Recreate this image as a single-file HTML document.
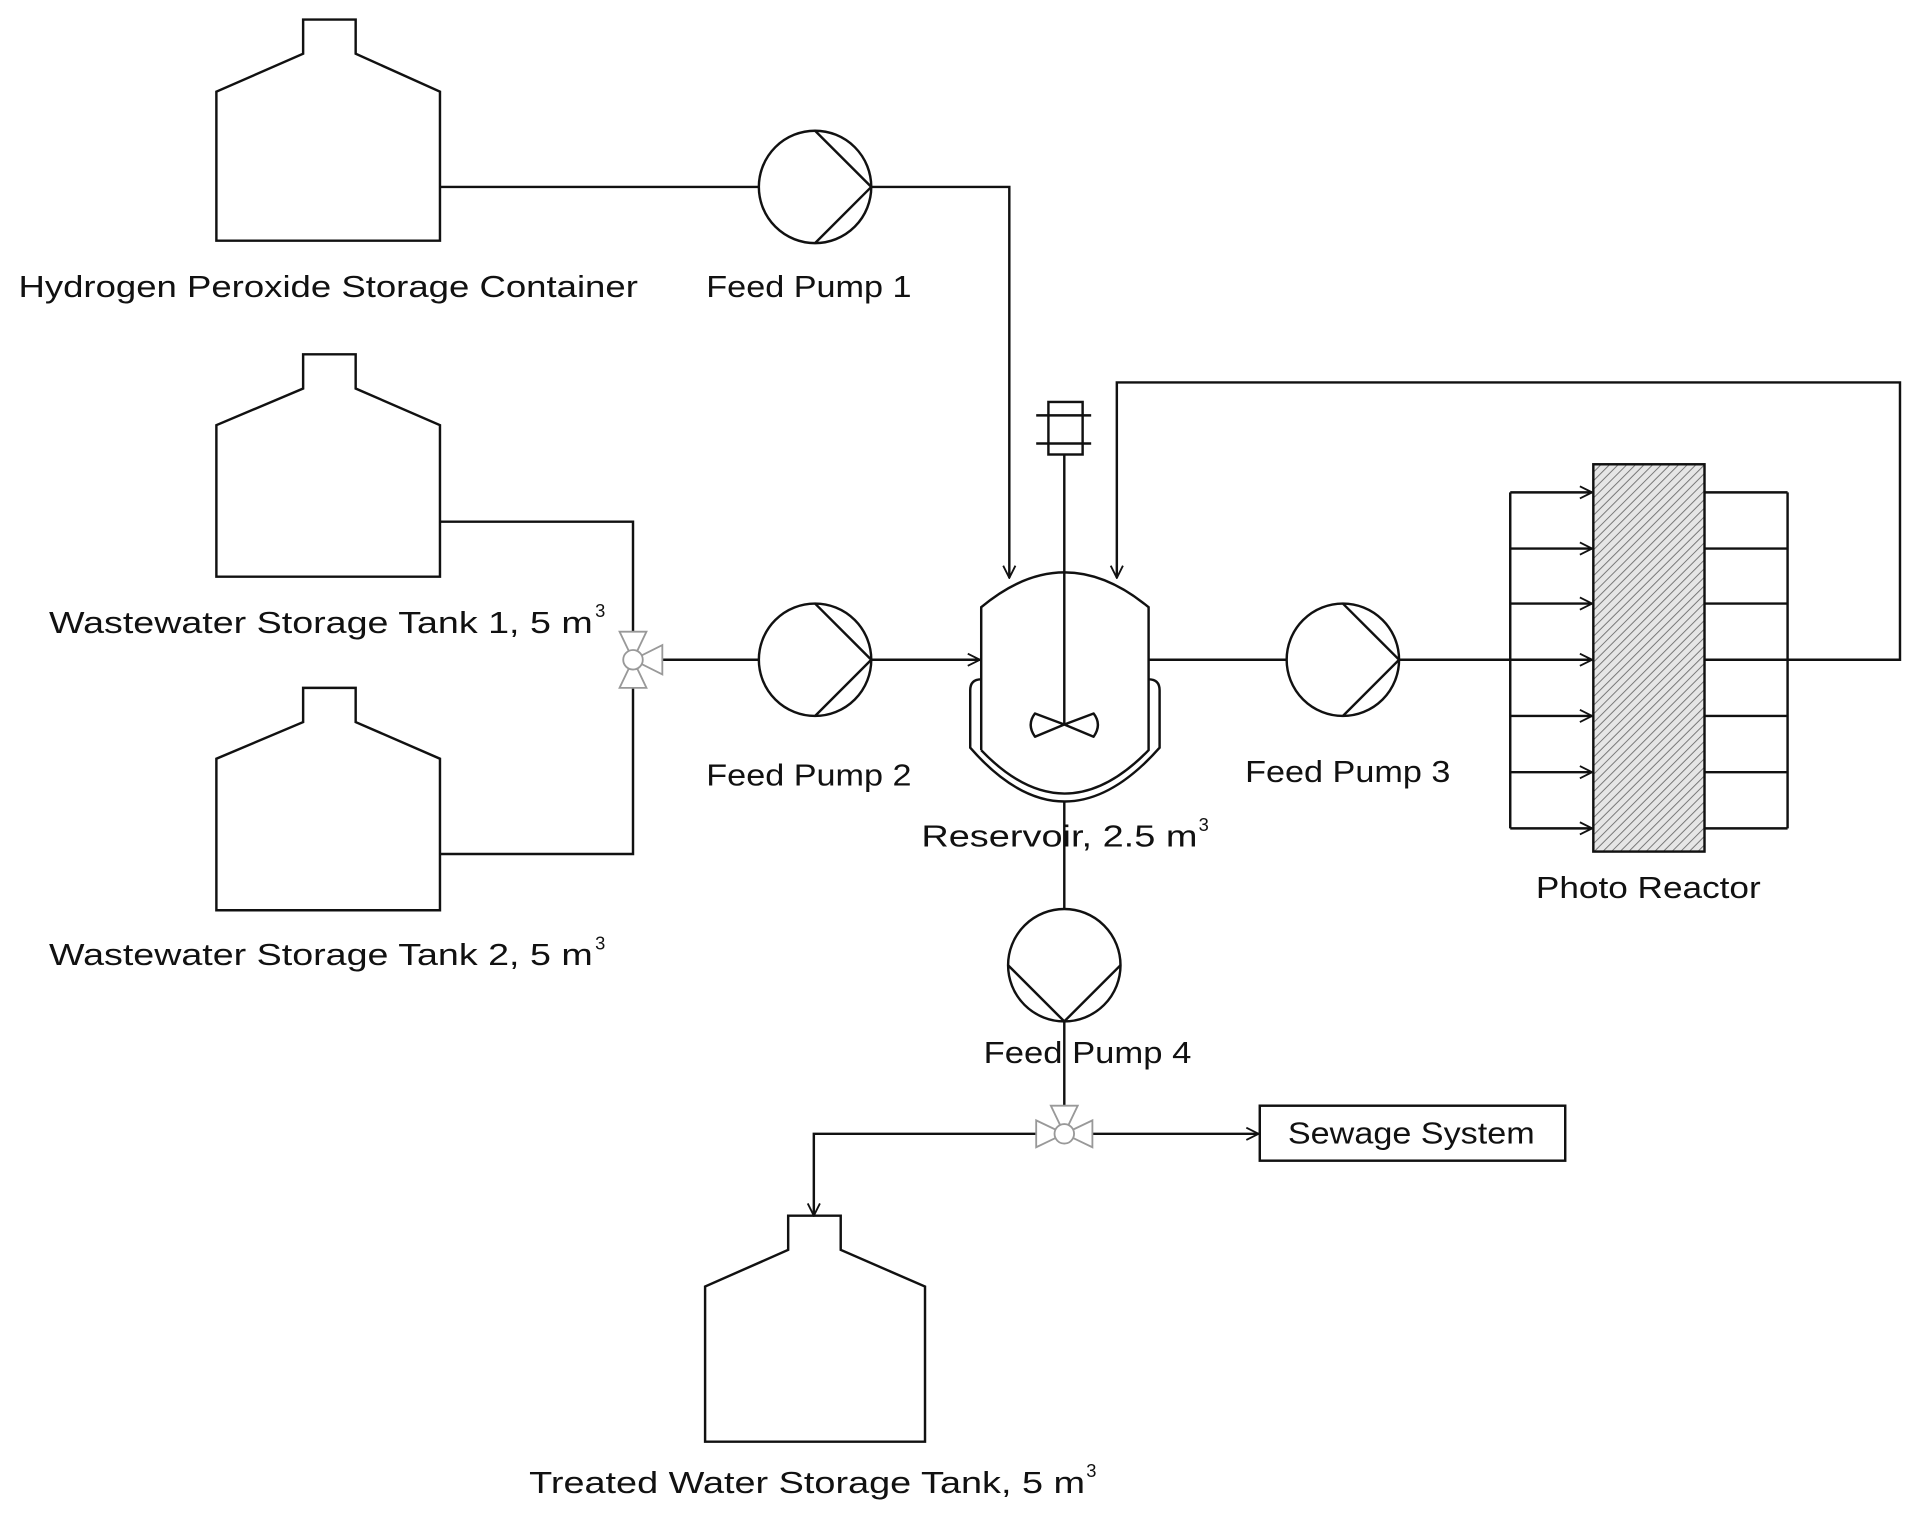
<!DOCTYPE html>
<html><head><meta charset="utf-8"><style>html,body{margin:0;padding:0;background:#fff}svg{display:block}</style></head>
<body>
<svg width="1916" height="1515" viewBox="0 0 1568 1240" xmlns="http://www.w3.org/2000/svg">
<defs>
<pattern id="h" width="5" height="5" patternUnits="userSpaceOnUse" patternTransform="rotate(45)">
<rect width="5" height="5" fill="#e6e6e6"/><line x1="0" y1="0" x2="0" y2="5" stroke="#777" stroke-width="1.6"/></pattern>
<marker id="a" markerWidth="12" markerHeight="12" refX="11" refY="6" orient="auto" markerUnits="userSpaceOnUse"><path d="M1,1 L11,6 L1,11" fill="none" stroke="#111" stroke-width="1.5"/></marker>
</defs>
<g fill="none" stroke="#111" stroke-width="2">
<!-- tanks -->
<path d="M248,16 H291 V44 L360,75 V197 H177 V75 L248,44 Z"/>
<path d="M248,290 H291 V318 L360,348 V472 H177 V348 L248,318 Z"/>
<path d="M248,563 H291 V591 L360,621 V745 H177 V621 L248,591 Z"/>
<path d="M645,995 H688 V1023 L757,1053 V1180 H577 V1053 L645,1023 Z"/>
<!-- pipes -->
<path d="M360,153 H621"/>
<path d="M713,153 H826 V473" marker-end="url(#a)"/>
<path d="M360,427 H518 V517 M518,563 V699 H360"/>
<path d="M542,540 H621"/>
<path d="M713,540 H802" marker-end="url(#a)"/>
<path d="M1463,540 H1555 V313 H914 V473" marker-end="url(#a)"/>
<path d="M940,540 H1053"/>
<path d="M871,656 V744"/>
<path d="M871,836 V905"/>
<path d="M848,928 H666 V995" marker-end="url(#a)"/>
<path d="M894,928 H1030" marker-end="url(#a)"/>
<!-- pumps -->
<circle cx="667" cy="153" r="46"/><path d="M667,107 L713,153 L667,199"/>
<circle cx="667" cy="540" r="46"/><path d="M667,494 L713,540 L667,586"/>
<circle cx="1099" cy="540" r="46"/><path d="M1099,494 L1145,540 L1099,586"/>
<circle cx="871" cy="790" r="46"/><path d="M825,790 L871,836 L917,790"/>
<!-- reservoir -->
<path d="M803,614 V497 Q871,440 940,497 V614 Q871,685 803,614"/>
<path d="M803,556 Q794,556 794,565 V612 Q871,700 949,612 V565 Q949,556 940,556"/>
<path d="M871,372 V593"/>
<rect x="858" y="329" width="28" height="43"/>
<path d="M848,340 H893 M848,363 H893"/>
<path d="M871,593 L847,584 Q840,593 847,603 Z M871,593 L895,584 Q902,593 895,603 Z" stroke-linejoin="round"/>
<!-- photo reactor -->
<rect x="1304" y="380" width="91" height="317" fill="url(#h)"/>
<path d="M1236,403 V678 M1463,403 V678"/>
<path d="M1145,540 H1236"/>
<g marker-end="url(#a)">
<path d="M1236,403 H1303"/><path d="M1236,449 H1303"/><path d="M1236,494 H1303"/><path d="M1236,540 H1303"/><path d="M1236,586 H1303"/><path d="M1236,632 H1303"/><path d="M1236,678 H1303"/>
</g>
<path d="M1395,403 H1463 M1395,449 H1463 M1395,494 H1463 M1395,540 H1463 M1395,586 H1463 M1395,632 H1463 M1395,678 H1463"/>
<rect x="1031" y="905" width="250" height="45"/>
</g>
<!-- valves -->
<g fill="#fff" stroke="#999" stroke-width="1.5">
<path d="M507,517 H529 L518,540 Z M507,563 H529 L518,540 Z M542,528 V552 L518,540 Z"/><circle cx="518" cy="540" r="8"/>
<path d="M848,917 V939 L871,928 Z M894,917 V939 L871,928 Z M860,905 H882 L871,928 Z"/><circle cx="871" cy="928" r="8"/>
</g>
<g font-family="Liberation Sans, sans-serif" font-size="25" fill="#111">
<text x="15" y="243" textLength="507" lengthAdjust="spacingAndGlyphs">Hydrogen Peroxide Storage Container</text>
<text x="578" y="243" textLength="168" lengthAdjust="spacingAndGlyphs">Feed Pump 1</text>
<text x="40" y="518" textLength="445" lengthAdjust="spacingAndGlyphs">Wastewater Storage Tank 1, 5 m</text><text x="487" y="505" font-size="15">3</text>
<text x="40" y="790" textLength="445" lengthAdjust="spacingAndGlyphs">Wastewater Storage Tank 2, 5 m</text><text x="487" y="777" font-size="15">3</text>
<text x="578" y="643" textLength="168" lengthAdjust="spacingAndGlyphs">Feed Pump 2</text>
<text x="1019" y="640" textLength="168" lengthAdjust="spacingAndGlyphs">Feed Pump 3</text>
<text x="754" y="693" textLength="226" lengthAdjust="spacingAndGlyphs">Reservoir, 2.5 m</text><text x="981" y="680" font-size="15">3</text>
<text x="1257" y="735" textLength="184" lengthAdjust="spacingAndGlyphs">Photo Reactor</text>
<text x="805" y="870" textLength="170" lengthAdjust="spacingAndGlyphs">Feed Pump 4</text>
<text x="1054" y="936" textLength="202" lengthAdjust="spacingAndGlyphs">Sewage System</text>
<text x="433" y="1222" textLength="455" lengthAdjust="spacingAndGlyphs">Treated Water Storage Tank, 5 m</text><text x="889" y="1209" font-size="15">3</text>
</g>
</svg>
</body></html>
